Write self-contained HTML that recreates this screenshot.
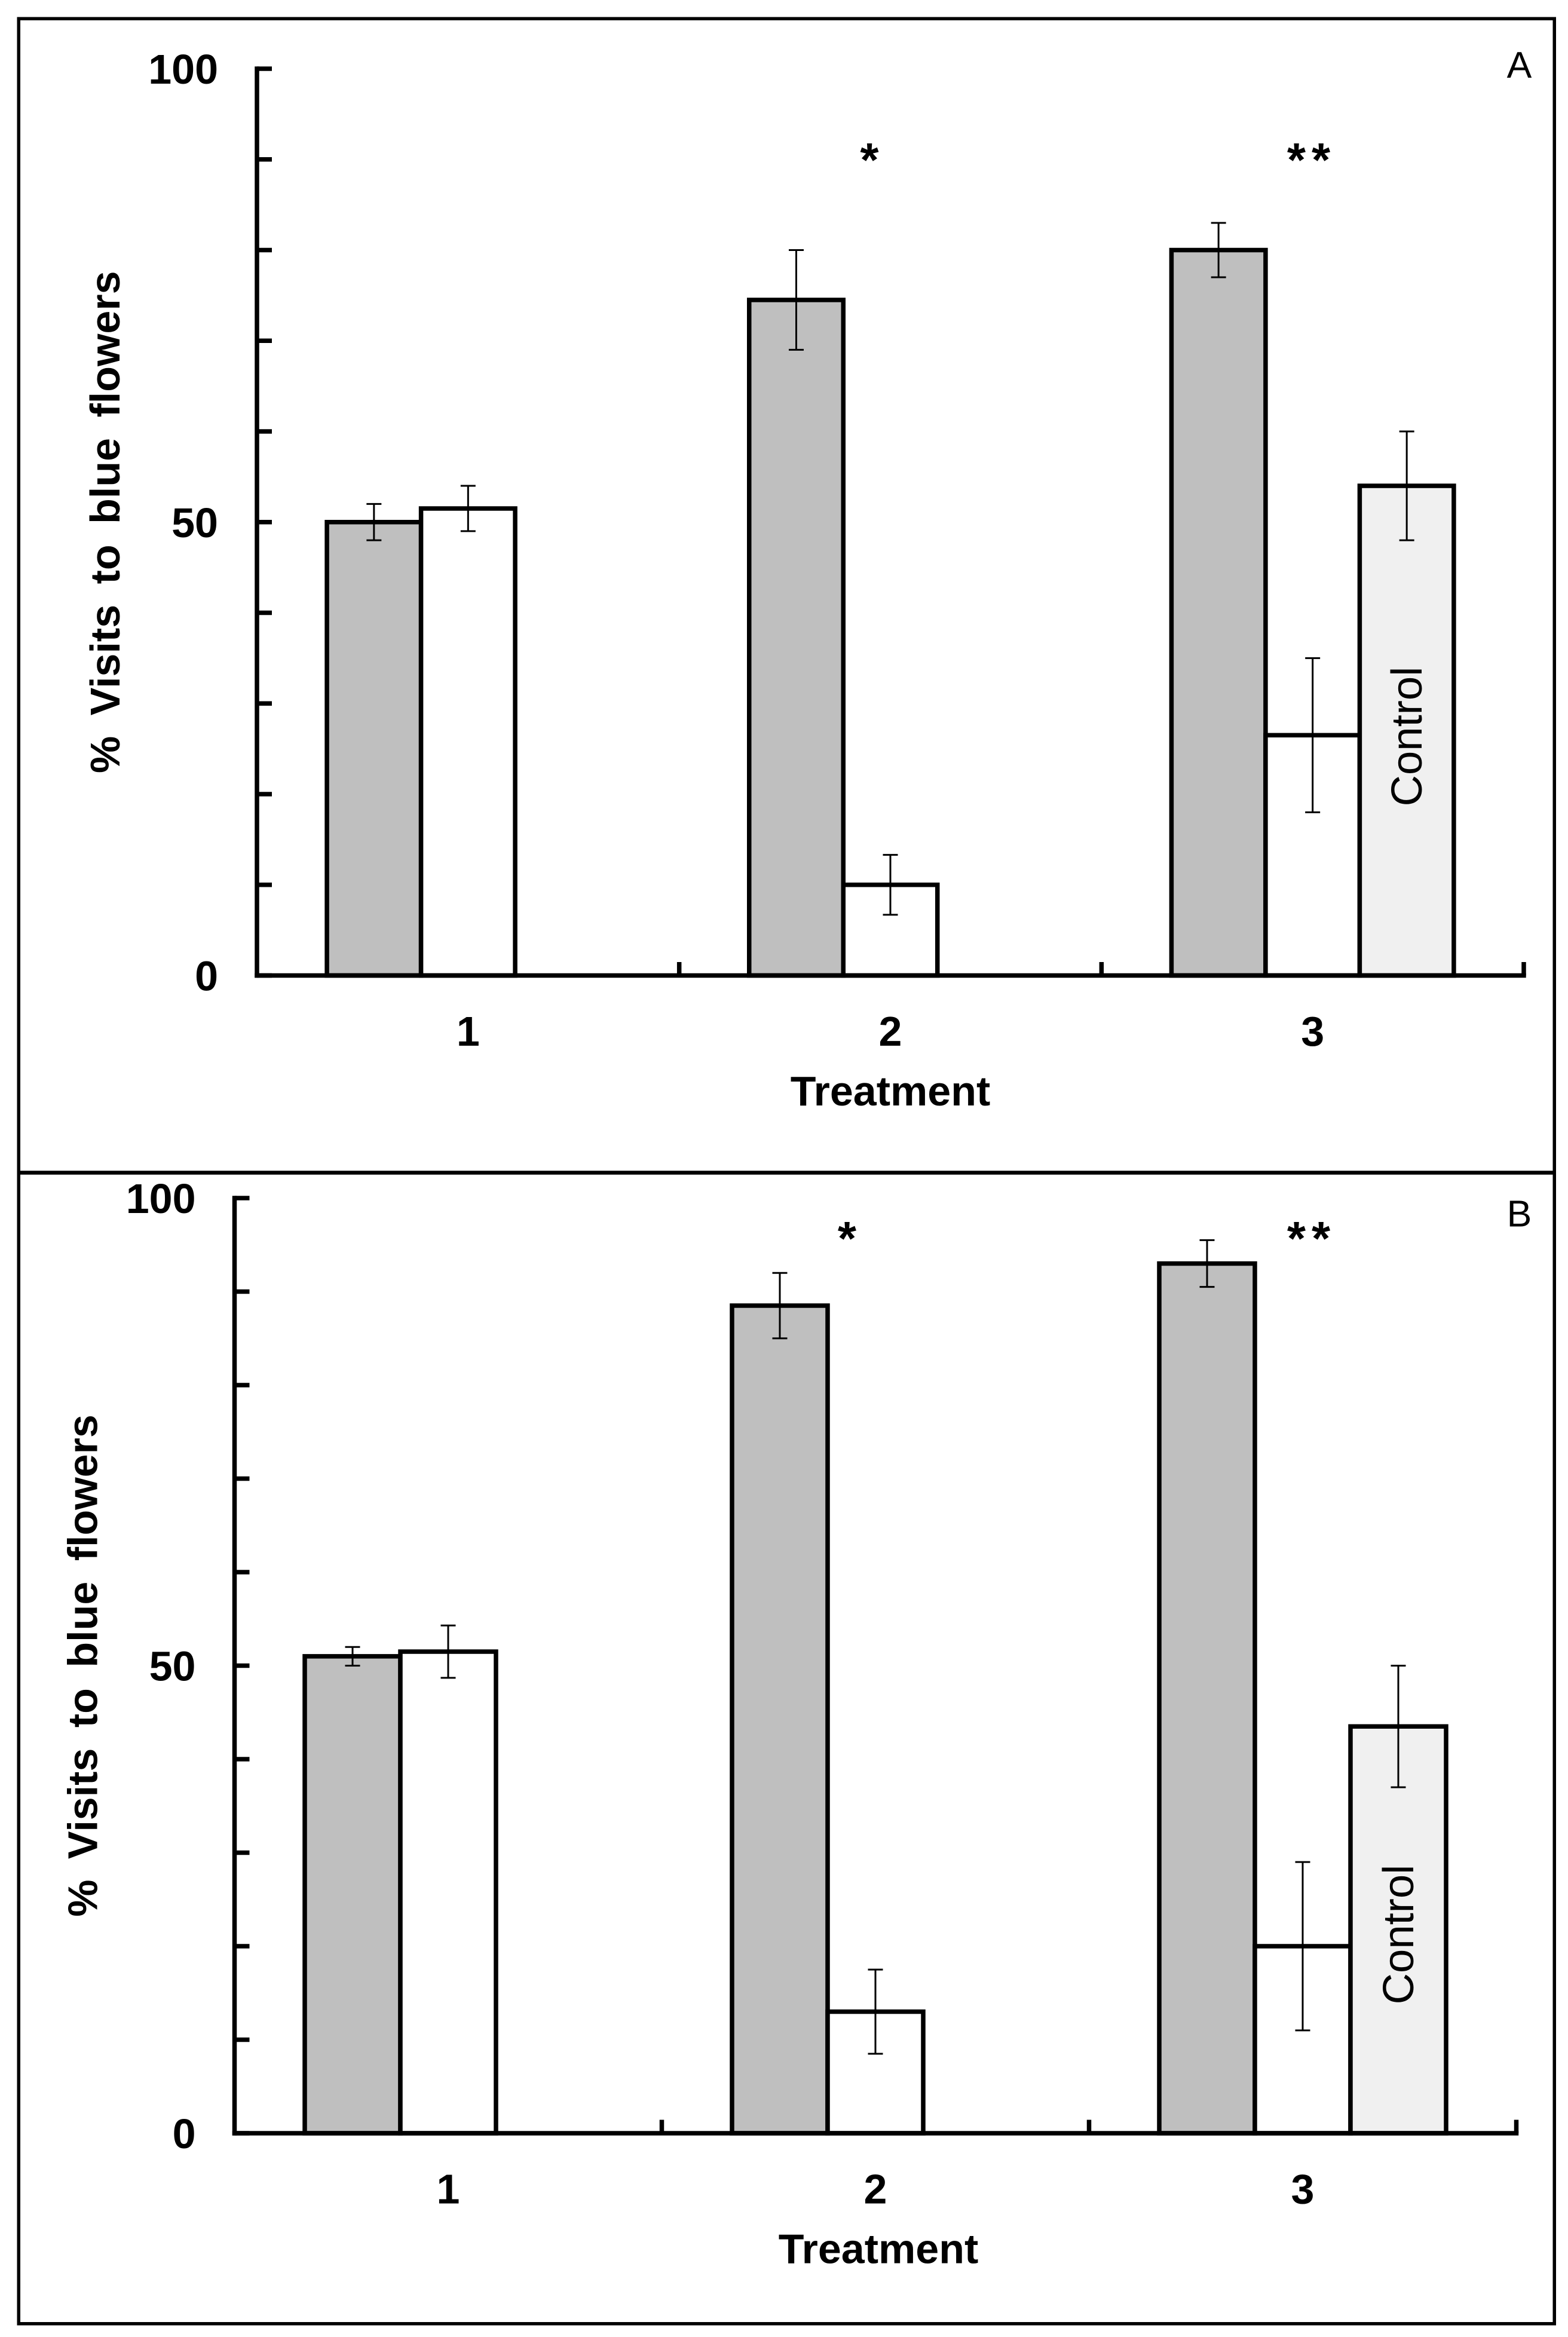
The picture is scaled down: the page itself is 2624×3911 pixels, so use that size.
<!DOCTYPE html>
<html><head><meta charset="utf-8"><style>
html,body{margin:0;padding:0;background:#fff;}
svg{display:block;}
text{font-family:"Liberation Sans",Arial,sans-serif;}
</style></head>
<body>
<svg id="fig" width="2624" height="3911" viewBox="0 0 1049.6 1564.4" xmlns="http://www.w3.org/2000/svg">
<rect x="12.5" y="12.5" width="1028" height="1543" fill="#fff" stroke="#000" stroke-width="2.2"/>
<line x1="12" y1="785" x2="1041" y2="785" stroke="#000" stroke-width="2.6"/>
<g id="panelA"></g>
<g id="panelB"></g>
</svg>
<script>
// Data
const categories = ["1", "2", "3"];
const yTicksLabels = ["0", "50", "100"];
const aExperimental = [50, 74.5, 80];
const aExperimentalErr = [2, 5.5, 3];
const aAlternative = [51.5, 10, 26.5];
const aAlternativeErr = [2.5, 3.3, 8.5];
const aControl = [54];
const aControlErr = [6];
const aStars = ["", "*", "**"];
const bExperimental = [51, 88.5, 93];
const bExperimentalErr = [1, 3.5, 2.5];
const bAlternative = [51.5, 13, 20];
const bAlternativeErr = [2.8, 4.5, 9];
const bControl = [43.5];
const bControlErr = [6.5];
const bStars = ["", "*", "**"];

const NS = "http://www.w3.org/2000/svg";
function mk(parent, tag, attrs, txt) {
  const e = document.createElementNS(NS, tag);
  for (const k in attrs) e.setAttribute(k, attrs[k]);
  if (txt !== undefined) e.textContent = txt;
  parent.appendChild(e);
  return e;
}

function drawPanel(g, cfg, exp, expErr, alt, altErr, ctl, ctlErr, stars) {
  const yScale = v => cfg.y0 + (cfg.y100 - cfg.y0) * v / 100;
  const catStep = (cfg.xEnd - cfg.xAxis) / 3;
  const catCenter = i => cfg.xAxis + catStep * (i + 0.5);
  const bw = cfg.bw;

  for (let v = 0; v <= 100; v += 10) {
    const t = mk(g, "line", {x1: cfg.xAxis, x2: cfg.xAxis + 10, y1: yScale(v), y2: yScale(v), stroke: "#000", "stroke-width": 3});
    
    
  }
  yTicksLabels.forEach(l => {
    const t = mk(g, "text", {x: cfg.xAxis - 26, y: yScale(+l) + 10, "text-anchor": "end", "font-size": 28, "font-weight": "bold"}, l);
    
    
  });

  categories.forEach((c, i) => {
    const cx = catCenter(i);
    const left = cx - bw * 1.5;
    const bars = [[exp[i], expErr[i], "#bfbfbf", "bar-experimental-" + c]];
    bars.push([alt[i], altErr[i], "#ffffff", "bar-alternative-" + c]);
    if (i === 2) bars.push([ctl[0], ctlErr[0], "#f0f0f0", "bar-control"]);
    bars.forEach((b, j) => {
      const x = left + j * bw;
      const yt = yScale(b[0]);
      const r = mk(g, "rect", {x: x, y: yt, width: bw, height: cfg.y0 - yt, fill: b[2], stroke: "#000", "stroke-width": 3});
      
      
    });
    bars.forEach((b, j) => {
      const x = left + j * bw + bw / 2;
      const eg = mk(g, "g", {stroke: "#000", "stroke-width": 1.2});
      
      
      mk(eg, "line", {x1: x, x2: x, y1: yScale(b[0] + b[1]), y2: yScale(b[0] - b[1])});
      mk(eg, "line", {x1: x - 5, x2: x + 5, y1: yScale(b[0] + b[1]), y2: yScale(b[0] + b[1])});
      mk(eg, "line", {x1: x - 5, x2: x + 5, y1: yScale(b[0] - b[1]), y2: yScale(b[0] - b[1])});
    });
    if (i === 2) {
      const tx = left + 2.5 * bw + 10;
      const t = mk(g, "text", {x: tx, y: cfg.controlY, "font-size": 29, "text-anchor": "middle", transform: `rotate(-90 ${tx} ${cfg.controlY})`}, "Control");
      
      
    }
    if (stars[i]) {
      const t = mk(g, "text", {x: cfg.starX[i], y: cfg.starY, "font-size": 32, "font-weight": "bold", "text-anchor": "middle", "letter-spacing": 4}, stars[i]);
      
      
    }
    const cl = mk(g, "text", {x: cx, y: cfg.y0 + 47, "font-size": 28, "font-weight": "bold", "text-anchor": "middle"}, c);
    
    
  });

  const ya = mk(g, "line", {x1: cfg.xAxis, x2: cfg.xAxis, y1: cfg.y100 - 1.5, y2: cfg.y0 + 1.5, stroke: "#000", "stroke-width": 3});
  
  
  const xa = mk(g, "line", {x1: cfg.xAxis - 1.5, x2: cfg.xEnd + 1.5, y1: cfg.y0, y2: cfg.y0, stroke: "#000", "stroke-width": 3});
  
  
  for (let k = 1; k <= 3; k++) {
    const xt = cfg.xAxis + catStep * k;
    const t = mk(g, "line", {x1: xt, x2: xt, y1: cfg.y0, y2: cfg.y0 - 9, stroke: "#000", "stroke-width": 3});
    
    
  }
  const xt = mk(g, "text", {x: cfg.titleX, y: cfg.y0 + 87, "font-size": 28, "font-weight": "bold", "text-anchor": "middle"}, "Treatment");
  
  
  const ty = (cfg.y0 + cfg.y100) / 2;
  const yt = mk(g, "text", {x: cfg.yTitleX, y: ty, "font-size": 28, "font-weight": "bold", "text-anchor": "middle", "word-spacing": 6, transform: `rotate(-90 ${cfg.yTitleX} ${ty})`}, "% Visits  to  blue  flowers");
  
  
  const pl = mk(g, "text", {x: 1017, y: cfg.letterY, "font-size": 25, "text-anchor": "middle"}, cfg.letter);
  
  
}

drawPanel(document.getElementById("panelA"),
  {xAxis: 172, xEnd: 1020, y0: 653, y100: 46, bw: 63, starX: [0, 584, 878], starY: 118, controlY: 493, titleX: 596, yTitleX: 80, letter: "A", letterY: 52},
  aExperimental, aExperimentalErr, aAlternative, aAlternativeErr, aControl, aControlErr, aStars);
drawPanel(document.getElementById("panelB"),
  {xAxis: 157, xEnd: 1015, y0: 1428, y100: 802, bw: 64, starX: [0, 569, 878], starY: 840, controlY: 1295, titleX: 588, yTitleX: 65, letter: "B", letterY: 821},
  bExperimental, bExperimentalErr, bAlternative, bAlternativeErr, bControl, bControlErr, bStars);
</script>
</body></html>
